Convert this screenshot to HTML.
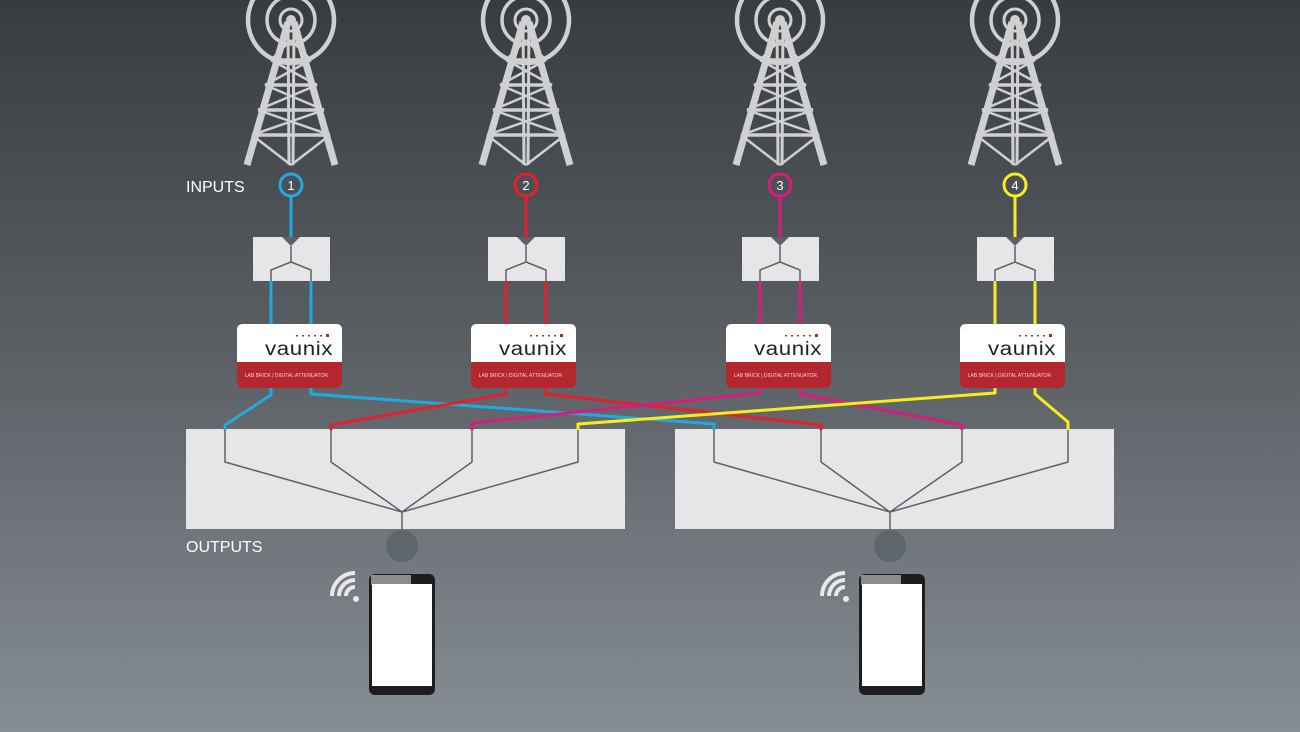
<!DOCTYPE html>
<html><head><meta charset="utf-8"><style>
html,body{margin:0;padding:0;width:1300px;height:732px;overflow:hidden}
svg{display:block}
</style></head><body>
<svg width="1300" height="732" viewBox="0 0 1300 732" xmlns="http://www.w3.org/2000/svg" font-family="Liberation Sans, sans-serif">
<defs>
<linearGradient id="bg" x1="0" y1="0" x2="0" y2="1">
<stop offset="0" stop-color="#383c40"/><stop offset="0.5" stop-color="#5c6166"/><stop offset="1" stop-color="#868d93"/>
</linearGradient>
<g id="tower" fill="none" stroke="#cfd0d1" stroke-linecap="butt">
<circle cx="0" cy="20" r="5" fill="#cfd0d1" stroke="none"/>
<circle cx="0" cy="20" r="11" stroke-width="3"/>
<circle cx="0" cy="20" r="24" stroke-width="3.5"/>
<circle cx="0" cy="20" r="43" stroke-width="4.5"/>
<path d="M-3 22 L-44 165 M3 22 L44 165" stroke-width="7"/>
<path d="M-3 22 L-2 165 M3 22 L2 165" stroke-width="3"/>
<path d="M-20 60 L20 60 M-26 85 L26 85 M-33 110 L33 110 M-39 135 L39 135" stroke-width="3.5"/>
<path d="M-20 60 L26 85 M20 60 L-26 85 M-26 85 L33 110 M26 85 L-33 110 M-33 110 L39 135 M33 110 L-39 135 M-39 135 L0 165 M39 135 L0 165 M-20 60 L0 40 M20 60 L0 40" stroke-width="2.5"/>
</g>
<g id="split">
<rect x="-38" y="237" width="77" height="44" fill="#e6e6e8"/>
<path d="M-9 237 L9 237 L0 246 Z" fill="#5b6166"/>
<path d="M0 246 L0 262 L-20 270 L-20 281 M0 262 L20 270 L20 281" fill="none" stroke="#5b6166" stroke-width="1.5"/>
</g>
<g id="vx">
<rect x="-53" y="324" width="105" height="64" rx="6" fill="#b5272e"/>
<path d="M-53 362 L-53 330 Q-53 324 -47 324 L46 324 Q52 324 52 330 L52 362 Z" fill="#fff"/>
<text x="43" y="355" text-anchor="end" font-size="19" fill="#222" letter-spacing="0.5" textLength="68" lengthAdjust="spacingAndGlyphs">vaunix</text>
<g fill="#b5272e"><rect x="6" y="335" width="2" height="1.5"/><rect x="12" y="335" width="2" height="1.5"/><rect x="18" y="335" width="2" height="1.5"/><rect x="24" y="335" width="2" height="1.5"/><rect x="30" y="335" width="2" height="1.5"/><rect x="36" y="334" width="3" height="3"/></g>
<text x="38" y="377" text-anchor="end" font-size="5" fill="#f0d0d0">LAB BRICK | DIGITAL ATTENUATOR</text>
</g>
<g id="phone">
<rect x="0" y="0" width="66" height="121" rx="6" fill="#1d1d1f"/>
<rect x="2" y="1" width="40" height="10" fill="#8a8c8e"/>
<rect x="3" y="10" width="60" height="102" fill="#fff"/>
<path d="M-30 22 A16 16 0 0 1 -14 6" fill="none" stroke="#e8e8e8" stroke-width="4"/>
<path d="M-37 22 A23 23 0 0 1 -14 -1" fill="none" stroke="#e8e8e8" stroke-width="4"/>
<path d="M-23 22 A9 9 0 0 1 -14 13" fill="none" stroke="#e8e8e8" stroke-width="4"/>
<circle cx="-13" cy="25" r="3" fill="#e8e8e8"/>
</g>
</defs>
<rect width="1300" height="732" fill="url(#bg)"/>
<use href="#tower" x="291"/><use href="#tower" x="526"/><use href="#tower" x="780"/><use href="#tower" x="1015"/>
<text x="186" y="192" font-size="16" fill="#fff">INPUTS</text>
<text x="186" y="552" font-size="16" fill="#fff">OUTPUTS</text>
<g stroke-width="3" fill="none">
<path d="M291 196 V237" stroke="#22a9e0"/><path d="M526 196 V237" stroke="#e3202b"/>
<path d="M780 196 V237" stroke="#d81b7e"/><path d="M1015 196 V237" stroke="#f7ec1d"/>
</g>
<g stroke-width="3" fill="#4a5055">
<circle cx="291" cy="185" r="11" stroke="#22a9e0"/><circle cx="526" cy="185" r="11" stroke="#e3202b"/>
<circle cx="780" cy="185" r="11" stroke="#d81b7e"/><circle cx="1015" cy="185" r="11" stroke="#f7ec1d"/>
</g>
<g font-size="13" fill="#fff" text-anchor="middle">
<text x="291" y="190">1</text><text x="526" y="190">2</text><text x="780" y="190">3</text><text x="1015" y="190">4</text>
</g>
<use href="#split" x="291"/><use href="#split" x="526"/><use href="#split" x="780"/><use href="#split" x="1015"/>
<g stroke-width="3" fill="none">
<path d="M271 281 V325 M311 281 V325" stroke="#22a9e0"/>
<path d="M506 281 V325 M546 281 V325" stroke="#e3202b"/>
<path d="M760 281 V325 M800 281 V325" stroke="#d81b7e"/>
<path d="M995 281 V325 M1035 281 V325" stroke="#f7ec1d"/>
</g>
<rect x="186" y="429" width="439" height="100" fill="#e6e6e8"/>
<rect x="675" y="429" width="439" height="100" fill="#e6e6e8"/>
<g stroke="#5b6166" stroke-width="1.5" fill="none">
<path d="M225 429 V462 L402 512 M331 429 V462 L402 512 M472 429 V462 L402 512 M578 429 V462 L402 512 M402 512 V530"/>
<path d="M714 429 V462 L890 512 M821 429 V462 L890 512 M962 429 V462 L890 512 M1068 429 V462 L890 512 M890 512 V530"/>
</g>
<g stroke-width="3" fill="none" stroke-linejoin="round">
<path d="M271 388 V395 L225 425 V430" stroke="#22a9e0"/>
<path d="M311 388 V394 L714 424 V430" stroke="#22a9e0"/>
<path d="M506 388 V394 L331 425 V430" stroke="#e3202b"/>
<path d="M546 388 V394 L821 425 V430" stroke="#e3202b"/>
<path d="M760 388 V393 L472 423 V430" stroke="#d81b7e"/>
<path d="M800 388 V394 L962 425 V430" stroke="#d81b7e"/>
<path d="M995 388 V393 L578 424 V430" stroke="#f7ec1d"/>
<path d="M1035 388 V394 L1068 422 V430" stroke="#f7ec1d"/>
</g>
<use href="#vx" x="290"/><use href="#vx" x="524"/><use href="#vx" x="779"/><use href="#vx" x="1013"/>
<circle cx="402" cy="546" r="16" fill="#5e666b"/>
<circle cx="890" cy="546" r="16" fill="#5e666b"/>
<use href="#phone" x="369" y="574"/>
<use href="#phone" x="859" y="574"/>
</svg>
</body></html>
